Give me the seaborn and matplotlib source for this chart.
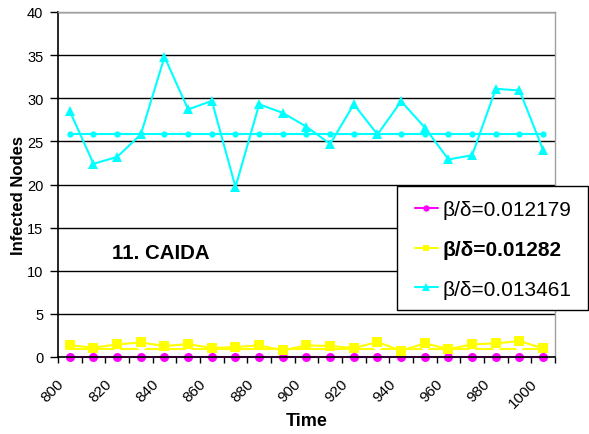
import numpy as np
import pandas as pd
import seaborn as sns
import matplotlib.pyplot as plt
import matplotlib.transforms as mtransforms
from matplotlib.patches import Rectangle
from matplotlib.ticker import FixedLocator

# data
time = list(range(800, 1001, 10))
low = [0.0] * 21
mid = [1.35, 1.08, 1.46, 1.69, 1.27, 1.50, 1.04, 1.15, 1.35, 0.77, 1.35,
       1.27, 1.04, 1.73, 0.73, 1.58, 0.92, 1.46, 1.58, 1.85, 1.00]
high = [28.5, 22.4, 23.2, 25.8, 34.8, 28.7, 29.7, 19.7, 29.3, 28.3, 26.7,
        24.7, 29.3, 25.8, 29.65, 26.6, 22.9, 23.4, 31.1, 30.9, 24.0]
mid_flat = [0.92] * 21
high_flat = [25.9] * 21
labels = ['β/δ=0.012179', 'β/δ=0.01282', 'β/δ=0.013461']
xtick_labels = [str(t) for t in range(800, 1001, 20)]

sns.set_style("white")
plt.rcParams['font.family'] = ['Liberation Sans', 'DejaVu Sans']
plt.rcParams.update({'text.color': 'black', 'axes.labelcolor': 'black',
                     'xtick.color': 'black', 'ytick.color': 'black'})

W, H = 589, 435
fig = plt.figure(figsize=(5.89, 4.35), dpi=100)
ax = fig.add_axes([58 / W, 77 / H, 497 / W, 345 / H])

df = pd.DataFrame({'time': time, 'low': low, 'mid': mid, 'high': high,
                   'mid_flat': mid_flat, 'high_flat': high_flat})

# flat reference lines (not in legend)
sns.lineplot(data=df, x='time', y='high_flat', ax=ax, color='#00FFFF', lw=1.5,
             marker='o', markersize=4.5, markeredgewidth=0, legend=False)
sns.lineplot(data=df, x='time', y='mid_flat', ax=ax, color='#FFFF00', lw=1.5,
             marker=(6, 2, 0), markersize=6, markeredgewidth=1.2, legend=False)

sns.lineplot(data=df, x='time', y='low', ax=ax, color='#FF00FF', lw=1.5,
             marker='o', markersize=6.5, markeredgewidth=0, label=labels[0], clip_on=False)
sns.lineplot(data=df, x='time', y='mid', ax=ax, color='#FFFF00', lw=1.5,
             marker='s', markersize=6.5, markeredgewidth=0, label=labels[1])
sns.lineplot(data=df, x='time', y='high', ax=ax, color='#00FFFF', lw=1.5,
             marker='^', markersize=7.5, markeredgewidth=0, label=labels[2])

ax.set_xlim(795, 1005)
ax.set_ylim(0, 40)
ax.set_yticks(range(0, 41, 5))
ax.grid(axis='y', color='black', lw=1)
ax.set_axisbelow(True)

ax.set_xticks(range(800, 1001, 20))
ax.xaxis.set_minor_locator(FixedLocator(np.arange(795, 1006, 10)))
ax.tick_params(axis='x', which='major', length=0, pad=14)
ax.tick_params(axis='x', which='minor', length=4, width=1, color='black', bottom=True)
ax.tick_params(axis='y', length=6, width=1, color='black', left=True, labelsize=10.5, pad=4.5)
ax.set_xticklabels(xtick_labels, rotation=45, ha='right', va='top', fontsize=11)
shift = mtransforms.ScaledTranslation(-0.03, 0, fig.dpi_scale_trans)
for lab in ax.get_xticklabels():
    lab.set_transform(lab.get_transform() + shift)

for s in ['left', 'bottom']:
    ax.spines[s].set_color('black')
    ax.spines[s].set_linewidth(1.2)
for s in ['top', 'right']:
    ax.spines[s].set_color('#A0A0A0')
    ax.spines[s].set_linewidth(1)

ax.set_xlabel('Time', fontsize=13, fontweight='bold', va='center')
ax.xaxis.set_label_coords(0.5, -0.183)
ax.set_ylabel('Infected Nodes', fontsize=12, fontweight='bold', va='center')
ax.yaxis.set_label_coords(-0.079, 0.472)

ax.text(817.8, 12.1, '11. CAIDA', fontsize=14.7, fontweight='bold', va='center')

# legend box (extends past the plot area, to the figure edge)
box = Rectangle((397 / W, 1 - 311 / H), 191 / W, 124 / H, transform=fig.transFigure,
                facecolor='white', edgecolor='black', lw=1, zorder=4)
fig.add_artist(box)
handles, labs = ax.get_legend_handles_labels()
ax.get_legend().remove()
leg = fig.legend(handles, labs, loc='upper left', bbox_to_anchor=(415 / W, 1 - 201 / H),
                 fontsize=15, frameon=False, handlelength=1.1, handletextpad=0.2,
                 borderpad=0, borderaxespad=0, labelspacing=1.0, markerscale=0.7)
leg.set_zorder(5)
leg.get_texts()[1].set_fontweight('bold')

fig.savefig('out.png', dpi=100)
